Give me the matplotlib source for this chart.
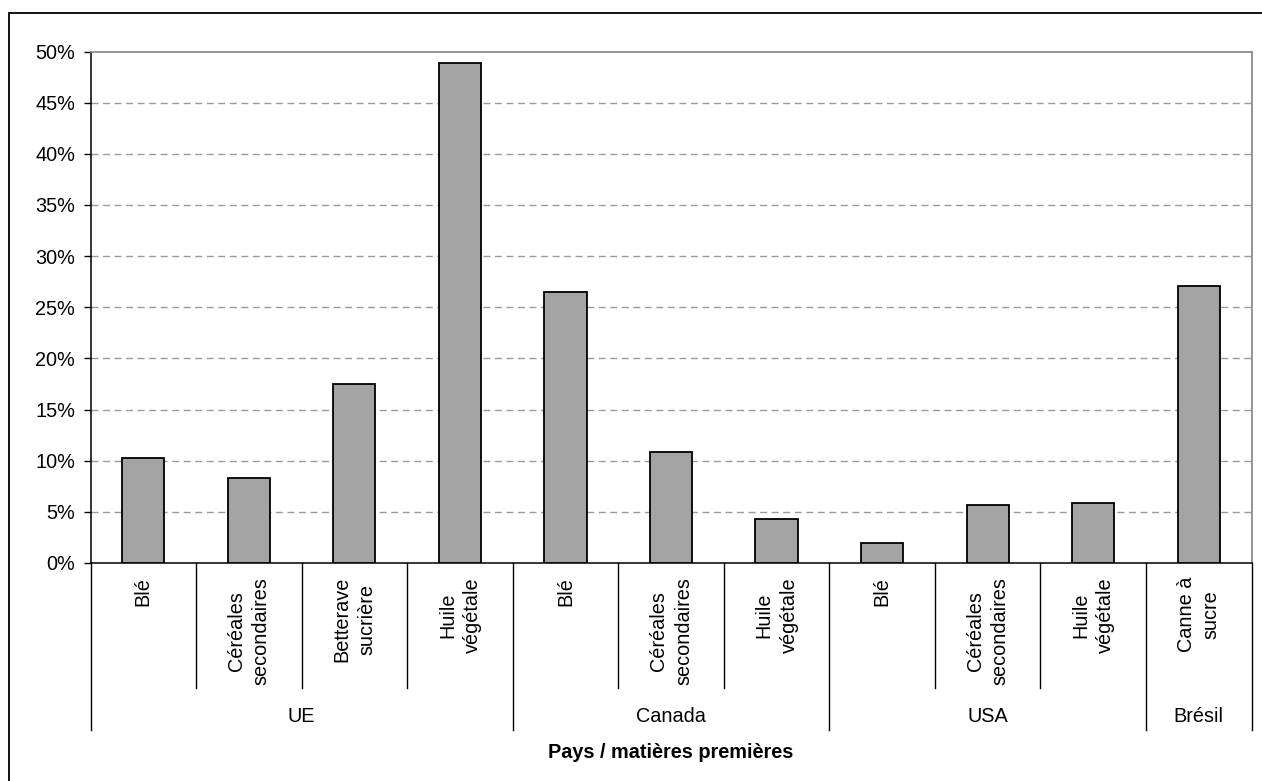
'''
plot
-----------------------------------------------------------
bar chart per country / feedstock
'''
# Load packages -------------------------------------------
import numpy as np
import matplotlib
matplotlib.use('Agg')
import matplotlib.pyplot as plt
from matplotlib.patches import Rectangle
from matplotlib.lines import Line2D
from matplotlib.ticker import FuncFormatter

# Data ----------------------------------------------------
groups = ['UE', 'Canada', 'USA', 'Brésil']
group_sizes = [4, 3, 3, 1]
feedstocks = [
    'Blé', 'Céréales\nsecondaires', 'Betterave\nsucrière', 'Huile\nvégétale',
    'Blé', 'Céréales\nsecondaires', 'Huile\nvégétale',
    'Blé', 'Céréales\nsecondaires', 'Huile\nvégétale',
    'Canne à\nsucre',
]
shares = [10.3, 8.3, 17.5, 48.85, 26.45, 10.85, 4.3, 2.0, 5.65, 5.85, 27.1]
yticks = np.arange(0, 55, 5)
xlabel = 'Pays / matières premières'

# Figure --------------------------------------------------
plt.rcParams['font.family'] = ['Liberation Sans', 'DejaVu Sans']
fs = 14.3
W, H = 1262, 781
fig = plt.figure(figsize=(W / 100, H / 100), dpi=100)

# axis box in pixels
x0, x1 = 90.5, 1251.5
y_top, y_bot = 51.5, 563
ax = fig.add_axes([x0 / W, 1 - y_bot / H, (x1 - x0) / W, (y_bot - y_top) / H])

n = len(shares)
x = np.arange(n)
ax.bar(x, shares, width=0.4, color='#a4a4a4', edgecolor='black',
       linewidth=1.3, zorder=3)

ax.set_xlim(-0.5, n - 0.5)
ax.set_ylim(0, 50)
ax.set_yticks(yticks)
ax.yaxis.set_major_formatter(FuncFormatter(lambda v, p: '%d%%' % v))
ax.tick_params(axis='y', direction='out', length=5, width=1, pad=6,
               labelsize=fs, colors='black')
ax.set_xticks([])

# grid and frame of the plot area
for yv in yticks[1:-1]:
    ax.axhline(yv, color='#9a9a9a', linewidth=1, linestyle=(0, (5, 3.3)),
               zorder=1)
for side in ['top', 'right']:
    ax.spines[side].set_color('#8c8c8c')
    ax.spines[side].set_linewidth(1.3)
for side in ['left', 'bottom']:
    ax.spines[side].set_color('black')
    ax.spines[side].set_linewidth(1.1)

# Category axis -------------------------------------------
px_per_cat = (x1 - x0) / n


def xpix(v):
    return (x0 + (v + 0.5) * px_per_cat) / W


def ypix(p):
    return 1 - p / H


# feedstock labels
for i, lab in enumerate(feedstocks):
    fig.text(xpix(i), ypix(577), lab, rotation=90, ha='center', va='top',
             multialignment='center', fontsize=fs, linespacing=1.4)

# dividers between feedstocks and between groups
bounds = np.cumsum([0] + group_sizes)
for b in range(n + 1):
    xb = (x0 + b * px_per_cat) / W
    yend = 730 if b in bounds else 688
    fig.add_artist(Line2D([xb, xb], [ypix(y_bot), ypix(yend)],
                          color='black', linewidth=1))

# group labels
for g, name in enumerate(groups):
    mid = (bounds[g] + bounds[g + 1] - 1) / 2
    fig.text(xpix(mid), ypix(716), name, ha='center', va='center',
             fontsize=fs)

# axis title
fig.text((x0 + x1) / 2 / W, ypix(753), xlabel, ha='center', va='center',
         fontsize=fs, fontweight='bold')

# outer frame
fig.add_artist(Rectangle((9 / W, -0.1), 1.2, 1 - 13 / H + 0.1,
                         transform=fig.transFigure, fill=False,
                         edgecolor='black', linewidth=1.3))

# Save plot -----------------------------------------------
fig.savefig('out.png', dpi=100)
